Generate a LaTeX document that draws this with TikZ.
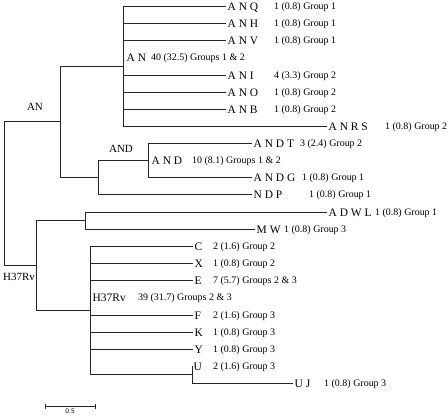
\documentclass[tikz,border=0pt]{standalone}
\usepackage{fontspec}
\setmainfont{Liberation Serif}
\usetikzlibrary{positioning, calc}

\begin{document}
\begin{tikzpicture}[
    x=1bp, y=-1bp,
    branch/.style ={draw=black!85, line width=0.8bp},
    leaf/.style   ={anchor=west, inner sep=1.5bp, text height=8bp, text depth=0bp, font=\fontsize{11.5}{14}\selectfont},
    grp/.style    ={anchor=west, inner sep=0bp, text height=6.5bp, text depth=0bp, font=\fontsize{10}{12}\selectfont}, % counts and groups
    clade/.style  ={inner sep=0bp, font=\fontsize{11}{13}\selectfont},
    scaletxt/.style={inner sep=0bp, font=\fontsize{7}{8}\sffamily},
    ]
    \useasboundingbox (0,0) rectangle (448,417);

    % --- Junctions ---
    \coordinate (root) at (4,193);
    \coordinate (n_an) at (60,121);
    \coordinate (n_ansub) at (123,66);
    \coordinate (n_and) at (98,177);
    \coordinate (n_andsub) at (148,160);
    \coordinate (n_h) at (36,265);
    \coordinate (n_dw) at (85,220);
    \coordinate (n_hsub) at (90,310);
    \coordinate (n_uj) at (192,374);

    % --- AN leaves ---
    \node[leaf] (anq) at (226,6) {A N Q};
    \node[leaf] (anh) at (226,23) {A N H};
    \node[leaf] (anv) at (226,40) {A N V};
    \node[leaf] (an_lbl) at (125,57) {A N};
    \node[leaf] (ani) at (226,75) {A N I};
    \node[leaf] (ano) at (226,92) {A N O};
    \node[leaf] (anb) at (226,109) {A N B};
    \node[leaf] (anrs) at (327,126) {A N R S};

    \node[grp] (anq_g) at (274,6) {1 (0.8) Group 1};
    \node[grp] (anh_g) at (274,23) {1 (0.8) Group 1};
    \node[grp] (anv_g) at (274,40) {1 (0.8) Group 1};
    \node[grp] (an_g) at (151,57) {40 (32.5) Groups 1 \& 2};
    \node[grp] (ani_g) at (274,75) {4 (3.3) Group 2};
    \node[grp] (ano_g) at (274,92) {1 (0.8) Group 2};
    \node[grp] (anb_g) at (274,109) {1 (0.8) Group 2};
    \node[grp] (anrs_g) at (385,126) {1 (0.8) Group 2};

    % --- AND leaves ---
    \node[leaf] (andt) at (252,143) {A N D T};
    \node[leaf] (and_lbl) at (150,160) {A N D};
    \node[leaf] (andg) at (252,177) {A N D G};
    \node[leaf] (ndp) at (252,194) {N D P};

    \node[grp] (andt_g) at (300,143) {3 (2.4) Group 2};
    \node[grp] (and_g) at (192,160) {10 (8.1) Groups 1 \& 2};
    \node[grp] (andg_g) at (302,177) {1 (0.8) Group 1};
    \node[grp] (ndp_g) at (309,194) {1 (0.8) Group 1};

    % --- H37Rv leaves ---
    \node[leaf] (adwl) at (327,212) {A D W L};
    \node[leaf] (mw) at (255,229) {M W};
    \node[leaf] (lf_c) at (193,246) {C};
    \node[leaf] (lf_x) at (193,263) {X};
    \node[leaf] (lf_e) at (193,280) {E};
    \node[leaf] (h_lbl) at (91,297) {H37Rv};
    \node[leaf] (lf_f) at (193,315) {F};
    \node[leaf] (lf_k) at (193,332) {K};
    \node[leaf] (lf_y) at (193,349) {Y};
    \node[leaf] (lf_u) at (192,366) {U};
    \node[leaf] (uj) at (293,383) {U J};

    \node[grp] (adwl_g) at (375,212) {1 (0.8) Group 1};
    \node[grp] (mw_g) at (284,229) {1 (0.8) Group 3};
    \node[grp] (c_g) at (213,246) {2 (1.6) Group 2};
    \node[grp] (x_g) at (213,263) {1 (0.8) Group 2};
    \node[grp] (e_g) at (213,280) {7 (5.7) Groups 2 \& 3};
    \node[grp] (h_g) at (138,297) {39 (31.7) Groups 2 \& 3};
    \node[grp] (f_g) at (213,315) {2 (1.6) Group 3};
    \node[grp] (k_g) at (213,332) {1 (0.8) Group 3};
    \node[grp] (y_g) at (213,349) {1 (0.8) Group 3};
    \node[grp] (u_g) at (213,366) {2 (1.6) Group 3};
    \node[grp] (uj_g) at (324,383) {1 (0.8) Group 3};

    % --- Clade names ---
    \node[clade] (an_name) at (35,107) {AN};
    \node[clade] (and_name) at (121,149) {AND};
    \node[clade] (h_name) at (19,277) {H37Rv};

    % --- Branches ---
    \draw[branch] (root) |- (n_an);
    \draw[branch] (root) |- (n_h);

    \draw[branch] (n_an) |- (n_ansub);
    \draw[branch] (n_an) |- (n_and);
    \foreach \lf in {anq, anh, anv, ani, ano, anb, anrs}
        \draw[branch] (n_ansub) |- (\lf.west);
    \draw[branch] (n_and) |- (n_andsub);
    \draw[branch] (n_and) |- (ndp.west);
    \draw[branch] (n_andsub) |- (andt.west);
    \draw[branch] (n_andsub) |- (andg.west);

    \draw[branch] (n_h) |- (n_dw);
    \draw[branch] (n_h) |- (n_hsub);
    \draw[branch] (n_dw) |- (adwl.west);
    \draw[branch] (n_dw) |- (mw.west);
    \foreach \lf in {lf_c, lf_x, lf_e, lf_f, lf_k, lf_y}
        \draw[branch] (n_hsub) |- (\lf.west);
    \draw[branch] (n_hsub) |- (n_uj);
    \draw[branch] (n_uj) |- (lf_u.west);
    \draw[branch] (n_uj) |- (uj.west);

    % --- Scale bar ---
    \coordinate (sb_l) at (45,406);
    \coordinate (sb_r) at (95,406);
    \draw[branch] (sb_l) -- (sb_r);
    \draw[branch] ([yshift=2.5bp]sb_l) -- ([yshift=-2.5bp]sb_l);
    \draw[branch] ([yshift=2.5bp]sb_r) -- ([yshift=-2.5bp]sb_r);
    \node[scaletxt, below=3bp of $(sb_l)!0.5!(sb_r)$] (sb_txt) {0.5};

\end{tikzpicture}
\end{document}
